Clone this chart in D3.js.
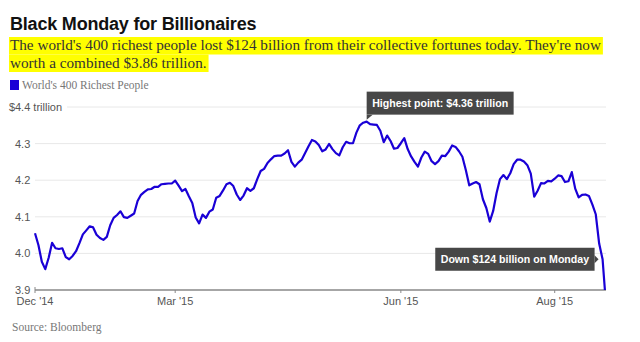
<!DOCTYPE html>
<html>
<head>
<meta charset="utf-8">
<script src="https://cdn.jsdelivr.net/npm/d3@7"></script>
<style>
body { margin: 0; background: #fff; }
</style>
</head>
<body>
<div id="chart"></div>
<script>
var width = 640;
var height = 342;
var margin = {top: 107, right: 34, bottom: 52, left: 35};

var title = "Black Monday for Billionaires";
var subtitle = [
    "The world's 400 richest people lost $124 billion from their collective fortunes today. They're now",
    "worth a combined $3.86 trillion."
];
var seriesName = "World's 400 Richest People";
var source = "Source: Bloomberg";

// combined net worth, $ trillion, one value per trading day (Dec 31 '14 .. Aug 24 '15)
var worth = [
    4.055, 4.023, 3.977, 3.957, 3.988, 4.029, 4.014, 4.012, 4.014, 3.990,
    3.984, 3.993, 4.006, 4.028, 4.052, 4.063, 4.074, 4.071, 4.051, 4.042,
    4.037, 4.045, 4.077, 4.097, 4.105, 4.115, 4.099, 4.097, 4.103, 4.109,
    4.143, 4.160, 4.168, 4.175, 4.176, 4.182, 4.182, 4.189, 4.190, 4.191,
    4.191, 4.199, 4.185, 4.170, 4.176, 4.156, 4.138, 4.098, 4.082, 4.106,
    4.097, 4.114, 4.120, 4.152, 4.157, 4.172, 4.189, 4.193, 4.184, 4.161,
    4.146, 4.158, 4.178, 4.171, 4.178, 4.203, 4.225, 4.231, 4.247, 4.257,
    4.266, 4.267, 4.267, 4.273, 4.282, 4.250, 4.237, 4.248, 4.256, 4.274,
    4.293, 4.310, 4.306, 4.296, 4.279, 4.284, 4.299, 4.285, 4.274, 4.268,
    4.290, 4.305, 4.301, 4.301, 4.330, 4.350, 4.357, 4.360, 4.353, 4.352,
    4.351, 4.335, 4.304, 4.322, 4.307, 4.286, 4.288, 4.301, 4.315, 4.285,
    4.265, 4.250, 4.237, 4.262, 4.278, 4.272, 4.252, 4.244, 4.252, 4.267,
    4.266, 4.278, 4.295, 4.291, 4.279, 4.264, 4.228, 4.186, 4.191, 4.195,
    4.189, 4.148, 4.124, 4.087, 4.116, 4.165, 4.203, 4.214, 4.203, 4.219,
    4.244, 4.256, 4.256, 4.251, 4.241, 4.218, 4.155, 4.171, 4.192, 4.191,
    4.198, 4.197, 4.204, 4.213, 4.211, 4.195, 4.197, 4.222, 4.177, 4.153,
    4.160, 4.161, 4.157, 4.134, 4.107, 4.027, 3.984, 3.860
];

var yTicks = [3.9, 4.0, 4.1, 4.2, 4.3, 4.4];
var xTicks = [0, 41, 107, 152];
var xTickLabels = ["Dec '14", "Mar '15", "Jun '15", "Aug '15"];

var peakNote = "Highest point: $4.36 trillion";
var dropNote = "Down $124 billion on Monday";
var dropIndex = worth.length - 2;

var blue = "#1a00d6";
var sans = "'Liberation Sans', Arial, sans-serif";
var serif = "'Liberation Serif', 'Times New Roman', serif";

var svg = d3.select("#chart")
            .append("svg")
            .attr("width", width)
            .attr("height", height)
            .style("display", "block");

var x = d3.scaleLinear()
          .domain([0, worth.length - 1])
          .range([margin.left, width - margin.right]);

var y = d3.scaleLinear()
          .domain([3.9, 4.4])
          .range([height - margin.bottom, margin.top]);

// header
svg.append("text")
   .attr("x", 10)
   .attr("y", 30)
   .attr("font-family", sans)
   .attr("font-weight", 700)
   .attr("font-size", 18)
   .attr("letter-spacing", -0.2)
   .attr("fill", "#111")
   .text(title);

var highlight = svg.append("g");
var sub = svg.append("g");
subtitle.forEach(function(line, i) {
    var t = sub.append("text")
               .attr("x", 10)
               .attr("y", 50 + i * 17.5)
               .attr("font-family", serif)
               .attr("font-size", 15.2)
               .attr("fill", "#333")
               .text(line);
    var w = t.node().getComputedTextLength();
    highlight.append("rect")
             .attr("x", 9)
             .attr("y", 50 + i * 17.5 - 13)
             .attr("width", w + 3)
             .attr("height", 17.5)
             .attr("fill", "#ffff00");
});

svg.append("rect")
   .attr("x", 10)
   .attr("y", 80)
   .attr("width", 9)
   .attr("height", 10)
   .attr("fill", blue);

svg.append("text")
   .attr("x", 22)
   .attr("y", 89)
   .attr("font-family", serif)
   .attr("font-size", 11.5)
   .attr("fill", "#777")
   .text(seriesName);

// y axis labels and gridlines
var yLabels = svg.append("g")
                 .attr("font-family", sans)
                 .attr("font-size", 11)
                 .attr("fill", "#555");

yTicks.forEach(function(d) {
    var top = d === 4.4;
    var lbl = yLabels.append("text")
                     .attr("x", 15)
                     .attr("y", y(d) + 4)
                     .text(d.toFixed(1) + (top ? " trillion" : ""));
    if (top) {
        yLabels.append("text")
               .attr("x", 15)
               .attr("y", y(d) + 4)
               .attr("text-anchor", "end")
               .text("$");
    }
    if (d === 3.9) return;
    var x0 = top ? 15 + lbl.node().getComputedTextLength() + 5 : margin.left;
    svg.append("line")
       .attr("x1", x0)
       .attr("x2", width - margin.right)
       .attr("y1", y(d))
       .attr("y2", y(d))
       .attr("stroke", "#e8e8e8")
       .attr("stroke-width", 1);
});

// x axis
var axisY = y(3.9);
svg.append("line")
   .attr("x1", margin.left)
   .attr("x2", width - margin.right)
   .attr("y1", axisY)
   .attr("y2", axisY)
   .attr("stroke", "#888")
   .attr("stroke-width", 1.5);

xTicks.forEach(function(d, i) {
    svg.append("line")
       .attr("x1", x(d))
       .attr("x2", x(d))
       .attr("y1", i === 0 ? axisY - 3 : axisY)
       .attr("y2", axisY + 3)
       .attr("stroke", "#888")
       .attr("stroke-width", 1);
    svg.append("text")
       .attr("x", x(d))
       .attr("y", axisY + 15)
       .attr("text-anchor", "middle")
       .attr("font-family", sans)
       .attr("font-size", 11)
       .attr("fill", "#555")
       .text(xTickLabels[i]);
});

// series line, cut off at the axis
svg.append("clipPath")
   .attr("id", "plot-clip")
   .append("rect")
   .attr("x", margin.left - 2)
   .attr("y", margin.top - 10)
   .attr("width", width - margin.left - margin.right + 4)
   .attr("height", axisY - margin.top + 10);

var line = d3.line()
             .x(function(d, i) { return x(i); })
             .y(function(d) { return y(d); });

svg.append("path")
   .datum(worth)
   .attr("clip-path", "url(#plot-clip)")
   .attr("fill", "none")
   .attr("stroke", blue)
   .attr("stroke-width", 2.2)
   .attr("stroke-linejoin", "round")
   .attr("d", line);

// callouts
function callout(text, px, py, side) {
    var g = svg.append("g");
    var box = g.append("rect").attr("fill", "#474747");
    var t = g.append("text")
             .attr("font-family", sans)
             .attr("font-weight", 700)
             .attr("font-size", 10.6)
             .attr("fill", "#fff")
             .text(text);
    var w = t.node().getComputedTextLength() + 11;
    var h = 23;
    var bx, by;
    if (side === "above") {
        bx = px;
        by = py - 7 - h;
        g.append("path")
         .attr("d", "M" + bx + "," + (by + h) + "L" + (bx + 6) + "," + (by + h) + "L" + bx + "," + (by + h + 5) + "Z")
         .attr("fill", "#474747");
    } else {
        bx = px - 8 - w;
        by = py - h / 2;
        g.append("path")
         .attr("d", "M" + (bx + w) + "," + (py - 4) + "L" + (bx + w + 4) + "," + py + "L" + (bx + w) + "," + (py + 4) + "Z")
         .attr("fill", "#474747");
    }
    box.attr("x", bx).attr("y", by).attr("width", w).attr("height", h);
    t.attr("x", bx + 5.5).attr("y", by + 15.5);
}

var peakIndex = d3.maxIndex(worth);
callout(peakNote, x(peakIndex), y(worth[peakIndex]), "above");
callout(dropNote, x(dropIndex), y(worth[dropIndex]), "left");

svg.append("text")
   .attr("x", 12)
   .attr("y", 331)
   .attr("font-family", serif)
   .attr("font-size", 11.5)
   .attr("fill", "#777")
   .text(source);
</script>
</body>
</html>
